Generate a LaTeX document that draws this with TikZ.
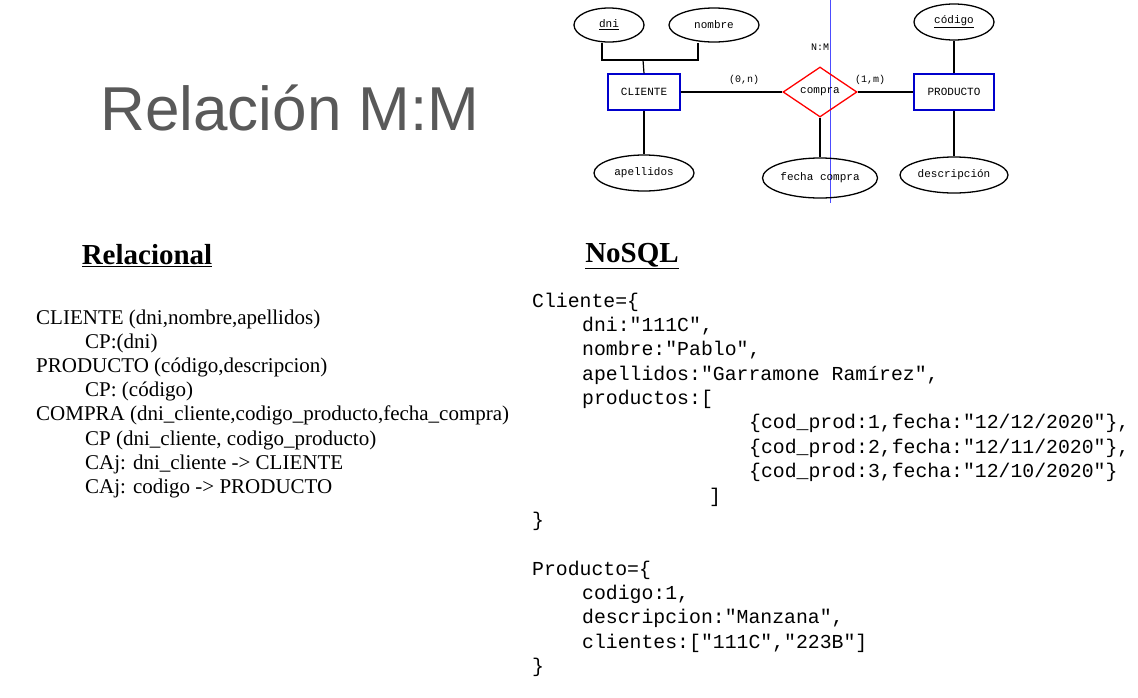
\documentclass[tikz,border=0pt]{standalone}
\usepackage{fontspec}
\setmainfont{Liberation Serif}
\setmonofont{Liberation Mono}
\newfontfamily\titlefont{Liberation Sans}
\usetikzlibrary{shapes.geometric}

\begin{document}
\begin{tikzpicture}[x=1pt,y=-1pt,
  ent/.style={draw=blue!80!black,line width=1.2pt,minimum width=72pt,minimum height=36pt,font=\ttfamily\fontsize{11}{13}\selectfont},
  att/.style={ellipse,draw,line width=1.3pt,font=\ttfamily\fontsize{11}{13}\selectfont,inner sep=0pt},
  rel/.style={diamond,draw=red,line width=1.3pt,minimum width=74pt,minimum height=50pt,inner sep=0pt,font=\ttfamily\fontsize{11}{13}\selectfont},
  card/.style={font=\ttfamily\fontsize{10}{12}\selectfont},
  rtxt/.style={anchor=west,font=\fontsize{21}{24}\selectfont,inner sep=0pt},
  code/.style={anchor=west,font=\ttfamily\fontsize{19.8}{24}\selectfont,inner sep=0pt},
  head/.style={font=\bfseries\fontsize{29}{32}\selectfont,inner sep=0pt}]
\useasboundingbox (0,0) rectangle (1138,697);
% title
\node[text=black!65,font=\titlefont\fontsize{62}{66}\selectfont] (title) at (290,108) {Relación M:M};
% ER diagram
\draw[blue!70,line width=0.8pt] (830,0) -- (830,203);
\node[ent] (cliente) at (644,92) {CLIENTE};
\node[ent,minimum width=80pt] (producto) at (954,92) {PRODUCTO};
\node[rel] (compra) at (820,92) {compra};
\node[att,minimum width=70pt,minimum height=34pt] (dni) at (609,25) {\underline{dni}};
\node[att,minimum width=90pt,minimum height=34pt] (nombre) at (714,25) {nombre};
\node[att,minimum width=100pt,minimum height=36pt] (apellidos) at (644,173) {apellidos};
\node[att,minimum width=115pt,minimum height=40pt] (fecha) at (820,178) {fecha compra};
\node[att,minimum width=80pt,minimum height=36pt] (codigo) at (954,22) {\underline{código}};
\node[att,minimum width=108pt,minimum height=36pt] (descripcion) at (954,175) {descripción};
\node[card] (nm) at (820,47) {N:M};
\node[card] (c0n) at (744,80) {(0,n)};
\node[card] (c1m) at (870,80) {(1,m)};
\coordinate (join) at (643,60);
\draw[line width=1.2pt] (dni.south -| 602,0) |- (join) -| (nombre.south -| 698,0);
\draw[line width=1.2pt] (join) -- (cliente.north);
\draw[line width=1.2pt] (cliente) -- (compra) -- (producto);
\draw[line width=1.2pt] (cliente) -- (apellidos);
\draw[line width=1.2pt] (compra) -- (fecha);
\draw[line width=1.2pt] (producto) -- (codigo);
\draw[line width=1.2pt] (producto) -- (descripcion);
% headings
\node[head] (relacional) at (147,256) {\underline{Relacional}};
\node[head] (nosql) at (632,256) {\underline{NoSQL}};
% relational schema
\foreach \y/\x/\t in {319/36/{CLIENTE (dni,nombre,apellidos)},
  343/85/{CP:(dni)},
  367/36/{PRODUCTO (código,descripcion)},
  391/85/{CP: (código)},
  415/36/{COMPRA (dni\_cliente,codigo\_producto,fecha\_compra)},
  440/85/{CP (dni\_cliente, codigo\_producto)},
  464/85/{CAj: dni\_cliente -> CLIENTE},
  488/85/{CAj: codigo -> PRODUCTO}}
  \node[rtxt] (r\y) at (\x,\y) {\t};
% documents
\foreach \y/\x/\t in {302/532/{Cliente=\{},
  326/582/{dni:"111C",},
  350/582/{nombre:"Pablo",},
  375/582/{apellidos:"Garramone Ramírez",},
  399/582/{productos:[},
  423/749/{\{cod\_prod:1,fecha:"12/12/2020"\},},
  448/749/{\{cod\_prod:2,fecha:"12/11/2020"\},},
  472/749/{\{cod\_prod:3,fecha:"12/10/2020"\}},
  497/709/{]},
  521/532/{\}},
  570/532/{Producto=\{},
  594/582/{codigo:1,},
  618/582/{descripcion:"Manzana",},
  643/582/{clientes:["111C","223B"]},
  667/532/{\}}}
  \node[code] (d\y) at (\x,\y) {\t};
\end{tikzpicture}
\end{document}
